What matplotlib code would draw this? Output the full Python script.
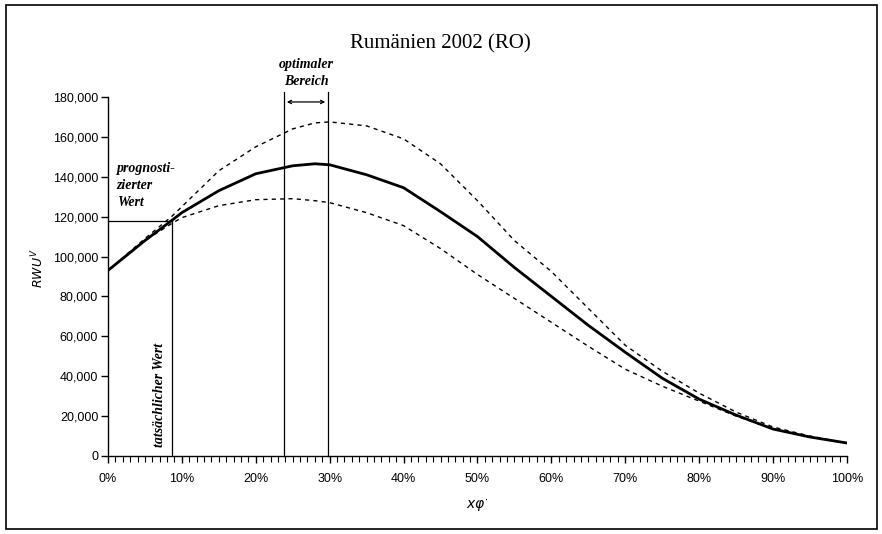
import numpy as np
import matplotlib
matplotlib.use('Agg')
from matplotlib import pyplot as plt
from matplotlib.patches import Rectangle
from matplotlib.ticker import MultipleLocator, FuncFormatter

# share x (percent) and RWU values
x_pct = [0, 5, 8.6, 10, 15, 20, 25, 28, 30, 35, 40, 45, 50, 55, 60, 65, 70, 75, 80, 85, 90, 95, 100]
rwu_mid = [93000, 108000, 118000, 122000, 133000, 141500, 145500, 146500, 146000, 141000, 134500,
           122500, 110000, 94500, 80000, 65500, 52000, 39000, 28500, 20500, 13500, 9500, 6500]
rwu_hi = [93000, 109000, 120000, 125000, 143000, 155000, 164000, 167000, 167500, 165500, 159000,
          146500, 128000, 108000, 92500, 74000, 55500, 42500, 31500, 22000, 14500, 10000, 6500]
rwu_lo = [93000, 108000, 116500, 119500, 125500, 128500, 129000, 128000, 127000, 122000, 115500,
          104000, 91000, 79000, 67000, 55000, 43500, 35000, 27500, 20000, 13500, 9500, 6500]

actual_x = 8.6
actual_y = 118000
opt_range = [23.8, 29.8]

plt.rcParams['font.family'] = ['Liberation Serif', 'DejaVu Serif']

fig = plt.figure(figsize=(8.82, 5.34), dpi=100)
ax = fig.add_axes([0.1224, 0.1461, 0.8379, 0.6723])

ax.plot(x_pct, rwu_hi, color='black', lw=1.0, ls=(0, (3, 3)))
ax.plot(x_pct, rwu_lo, color='black', lw=1.0, ls=(0, (3, 3)))
ax.plot(x_pct, rwu_mid, color='black', lw=2.0)

# actual / forecast markers
ax.plot([actual_x, actual_x], [0, actual_y], color='black', lw=0.9)
ax.plot([0, actual_x], [actual_y, actual_y], color='black', lw=0.9)
for xv in opt_range:
    ax.plot([xv, xv], [0, 182500], color='black', lw=0.9, clip_on=False)
ax.annotate('', xy=(opt_range[0] + 0.4, 177500), xytext=(opt_range[1] - 0.4, 177500),
            arrowprops=dict(arrowstyle='<->', lw=0.9, color='black',
                            mutation_scale=6, shrinkA=0, shrinkB=0),
            annotation_clip=False)

ax.text(26.8, 184500, 'optimaler\nBereich', ha='center', va='bottom', fontsize=10,
        style='italic', fontweight='bold', linespacing=1.35)
ax.text(1.2, 147500, 'prognosti-\nzierter\nWert', ha='left', va='top', fontsize=10,
        style='italic', fontweight='bold', linespacing=1.4)
ax.text(7.0, 30500, 'tatsächlicher Wert', rotation=90, ha='center', va='center',
        fontsize=10, style='italic', fontweight='bold')

ax.set_xlim(0, 100)
ax.set_ylim(0, 180000)
ax.spines['top'].set_visible(False)
ax.spines['right'].set_visible(False)
ax.spines['left'].set_linewidth(1.0)
ax.spines['bottom'].set_linewidth(1.0)
ax.xaxis.set_major_locator(MultipleLocator(10))
ax.xaxis.set_minor_locator(MultipleLocator(1))
ax.yaxis.set_major_locator(MultipleLocator(20000))
ax.xaxis.set_major_formatter(FuncFormatter(lambda v, p: f'{v:.0f}%'))
ax.yaxis.set_major_formatter(FuncFormatter(lambda v, p: f'{v:,.0f}'))
ax.tick_params(axis='x', which='major', direction='out', length=5, width=1, pad=7)
ax.tick_params(axis='x', which='minor', direction='out', length=4, width=0.8)
ax.tick_params(axis='y', which='major', direction='out', length=5, width=1, pad=2)
for lab in ax.get_xticklabels() + ax.get_yticklabels():
    lab.set_fontfamily('Liberation Sans')
    lab.set_fontsize(9)

fig.text(0.499, 0.918, 'Rumänien 2002 (RO)', ha='center', va='center', fontsize=15)
fig.text(0.541, 0.054, r'$x\varphi^{\cdot}$', ha='center', va='center', fontsize=10)
fig.text(0.043, 0.498, r'$RWU^{V}$', ha='center', va='center', rotation=90, fontsize=9)

# scanned page frame
fig.patches.append(Rectangle((0.0068, 0.0094), 0.9875, 0.981, transform=fig.transFigure,
                             fill=False, edgecolor='black', lw=1.2))

fig.savefig('out.png', dpi=100)
